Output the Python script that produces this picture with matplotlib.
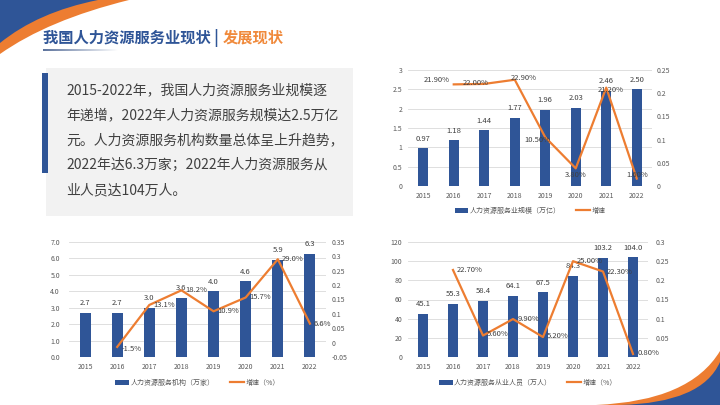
import numpy as np
import matplotlib
matplotlib.use('Agg')
import matplotlib.pyplot as plt
from matplotlib.patches import PathPatch, Rectangle
from matplotlib.path import Path
from matplotlib.lines import Line2D
from matplotlib.patches import Patch

plt.rcParams['font.family'] = ['Noto Sans CJK SC', 'DejaVu Sans']

# ---------------- data ----------------
years = ['2015', '2016', '2017', '2018', '2019', '2020', '2021', '2022']

scale_values = [0.97, 1.18, 1.44, 1.77, 1.96, 2.03, 2.46, 2.50]          # 万亿
scale_growth = [0.219, 0.220, 0.229, 0.105, 0.038, 0.212, 0.016]        # 2016-2022

org_values = [2.7, 2.7, 3.0, 3.6, 4.0, 4.6, 5.9, 6.3]                   # 万家
org_growth = [-0.015, 0.131, 0.182, 0.109, 0.157, 0.290, 0.066]

staff_values = [45.1, 55.3, 58.4, 64.1, 67.5, 84.3, 103.2, 104.0]       # 万人
staff_growth = [0.227, 0.056, 0.099, 0.052, 0.250, 0.223, 0.008]

title_main = '我国人力资源服务业现状'
title_sep = ' | '
title_sub = '发展现状'
paragraph_lines = [
    '2015-2022年，我国人力资源服务业规模逐',
    '年递增，2022年人力资源服务规模达2.5万亿',
    '元。人力资源服务机构数量总体呈上升趋势，',
    '2022年达6.3万家；2022年人力资源服务从',
    '业人员达104万人。',
]

BLUE = '#2f5597'
ORANGE = '#ed7d31'
TICK = '#595959'
LABEL = '#404040'
GRID = '#d9d9d9'

W, H = 720, 405
fig = plt.figure(figsize=(W / 100, H / 100), dpi=100)
fig.patch.set_facecolor('white')

# ---------------- background / decorations (pixel coords) ----------------
bg = fig.add_axes([0, 0, 1, 1], zorder=-5)
bg.set_xlim(0, W)
bg.set_ylim(H, 0)
bg.axis('off')


def quad_region(p0, c, p2, corner_pts, color):
    verts = [p0, c, p2] + corner_pts + [p0]
    codes = [Path.MOVETO, Path.CURVE3, Path.CURVE3] + [Path.LINETO] * len(corner_pts) + [Path.CLOSEPOLY]
    bg.add_patch(PathPatch(Path(verts, codes), facecolor=color, edgecolor='none'))


# top-left corner
quad_region((129, 0), (48, 20), (0, 54), [(0, 0)], ORANGE)
quad_region((98, 0), (38, 12), (0, 43), [(0, 0)], BLUE)
# bottom-right corner
quad_region((596, 405), (690, 401), (720, 351), [(720, 405)], ORANGE)
quad_region((620, 405), (702, 403), (720, 362), [(720, 405)], BLUE)

# title
t1 = bg.text(43, 38, title_main + title_sep, color=BLUE, fontsize=11, fontweight='bold',
             ha='left', va='center')
bg.annotate(title_sub, xy=(1, 0.5), xycoords=t1, color='#f08a3c', fontsize=11,
            fontweight='bold', ha='left', va='center')

# gradient underline
grad = np.zeros((1, 200, 4))
rgb = matplotlib.colors.to_rgb('#4a6391')
grad[..., 0], grad[..., 1], grad[..., 2] = rgb
grad[0, :, 3] = np.linspace(0.9, 0.0, 200)
bg.imshow(grad, extent=(43, 118, 51, 49.5), aspect='auto', interpolation='bilinear')
bg.set_xlim(0, W)
bg.set_ylim(H, 0)

# text box
bg.add_patch(Rectangle((46, 68), 307, 148, facecolor='#f2f2f2', edgecolor='none'))
bg.add_patch(Rectangle((42, 73), 6, 100, facecolor=BLUE, edgecolor='none'))
for i, line in enumerate(paragraph_lines):
    bg.text(66, 90 + i * 25, line, fontsize=10, color=LABEL, ha='left', va='center')


# ---------------- charts ----------------
def fmt_g(v):
    return '{:g}'.format(round(v, 4))


def draw_chart(rect, values, growth, bar_fmt, line_fmt, ylim, ystep, yfmt,
               y2lim, y2step, y2fmt, legend_labels, line_offsets, line_ha,
               lpad, rpad, legend_y):
    ax = fig.add_axes(rect)
    ax.set_facecolor('none')
    x = np.arange(len(years))
    ax.bar(x, values, width=0.34, color=BLUE, zorder=2)
    ax.set_xlim(-0.5, len(years) - 0.5)
    ax.set_ylim(*ylim)
    yt = np.arange(ylim[0], ylim[1] + ystep / 2, ystep)
    ax.set_yticks(yt)
    ax.set_yticklabels([yfmt(v) for v in yt])
    ax.set_xticks(x)
    ax.set_xticklabels(years)
    ax.tick_params(axis='both', length=0, labelsize=5, colors=TICK)
    ax.tick_params(axis='y', pad=lpad)
    ax.tick_params(axis='x', pad=4)
    for s in ax.spines.values():
        s.set_visible(False)
    ax.yaxis.grid(True, color=GRID, linewidth=0.6, zorder=0)
    ax.set_axisbelow(True)
    for xi, v in zip(x, values):
        ax.annotate(bar_fmt(v), (xi, v), xytext=(0, 7), textcoords='offset points',
                    ha='center', va='center', fontsize=5.5, color=LABEL, zorder=3)

    ax2 = ax.twinx()
    ax2.set_ylim(*y2lim)
    y2t = np.arange(y2lim[0], y2lim[1] + y2step / 2, y2step)
    ax2.set_yticks(y2t)
    ax2.set_yticklabels([y2fmt(v) for v in y2t])
    ax2.tick_params(axis='y', length=0, labelsize=5, colors=TICK, pad=rpad)
    for s in ax2.spines.values():
        s.set_visible(False)
    xl = x[1:]
    ax2.plot(xl, growth, color=ORANGE, linewidth=1.6, zorder=4)
    for xi, g, (dx, dy) in zip(xl, growth, line_offsets):
        ax2.annotate(line_fmt(g), (xi, g), xytext=(dx, dy), textcoords='offset points',
                     ha=line_ha, va='center', fontsize=5.5, color=LABEL, zorder=5)

    handles = [Patch(facecolor=BLUE, edgecolor='none'),
               Line2D([0], [0], color=ORANGE, linewidth=1.6)]
    leg = ax.legend(handles, legend_labels, loc='center', bbox_to_anchor=(0.5, legend_y),
                    ncol=2, frameon=False, fontsize=5, handlelength=2.0, handleheight=0.8,
                    columnspacing=2.2, handletextpad=0.2, borderaxespad=0)
    for t in leg.get_texts():
        t.set_color(TICK)
    return ax, ax2


# chart 1: market scale
draw_chart([408 / W, (H - 186) / H, 244 / W, 116 / H],
           scale_values, scale_growth,
           lambda v: '{:.2f}'.format(v), lambda g: '{:.2f}%'.format(g * 100),
           (0, 3), 0.5, fmt_g, (0, 0.25), 0.05, fmt_g,
           ['人力资源服务业规模（万亿）', '增速'],
           [(-12, 3), (-6, 1), (6.5, 1), (-6, -2), (0, -4.5), (3.5, -1.5), (0.5, 2.5)],
           'center', 4, 3.5, -0.215)

# chart 2: institutions
draw_chart([69 / W, (H - 357) / H, 257 / W, 115 / H],
           org_values, org_growth,
           lambda v: '{:.1f}'.format(v), lambda g: '{:.1f}%'.format(g * 100),
           (0, 7), 1.0, lambda v: '{:.1f}'.format(v), (-0.05, 0.35), 0.05, fmt_g,
           ['人力资源服务机构（万家）', '增速（%）'],
           [(3, -1.2), (3, 0), (3, 0), (3, 0), (3, 0), (3, 0), (3, 0)],
           'left', 6.5, 4, -0.225)

# chart 3: employees (the right-axis "0" is covered by the 0.80% label in the original)
draw_chart([408 / W, (H - 357) / H, 240 / W, 115 / H],
           staff_values, staff_growth,
           lambda v: '{:.1f}'.format(v), lambda g: '{:.2f}%'.format(g * 100),
           (0, 120), 20, fmt_g, (0, 0.3), 0.05,
           lambda v: '' if abs(v) < 1e-9 else fmt_g(v),
           ['人力资源服务从业人员（万人）', '增速（%）'],
           [(3, 0), (3, 1), (3, 0), (3, 1), (3, 0), (3, 0), (3, 1)],
           'left', 4, 5.5, -0.225)

fig.savefig('out.png', dpi=100, facecolor='white')
